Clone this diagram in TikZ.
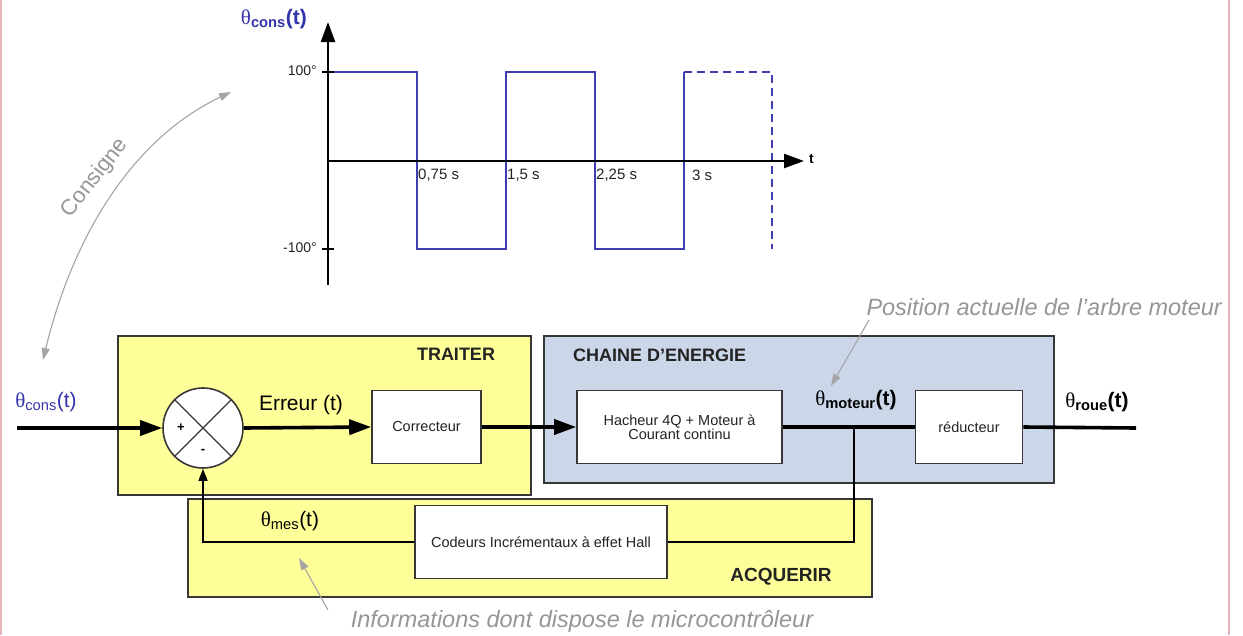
\documentclass[tikz,border=0pt]{standalone}
\usepackage{fontspec}
\setmainfont{Liberation Sans}
\newfontfamily\thf{Liberation Serif}
\usetikzlibrary{arrows.meta,calc}
\definecolor{yel}{RGB}{255,255,153}
\definecolor{bgray}{RGB}{203,215,233}
\definecolor{sigc}{RGB}{62,62,178}
\definecolor{tblue}{RGB}{52,52,172}
\definecolor{anno}{RGB}{150,150,150}
\definecolor{annoline}{RGB}{165,165,165}
\definecolor{framec}{RGB}{232,182,186}
\definecolor{edgec}{RGB}{55,55,55}
\definecolor{txtc}{RGB}{35,35,35}
\newcommand{\fs}[1]{\fontsize{#1}{#1}\selectfont}
\newcommand{\thsym}{{\thf θ}}
\tikzset{
  grp/.style={draw=edgec, line width=1.6, anchor=north west, inner sep=0},
  blk/.style={draw=edgec, fill=white, line width=1.6, align=center, font=\fs{14.5}, text=txtc, inner sep=2},
  mainln/.style={line width=3.6, black},
  bigtip/.style={-{Triangle[length=22,width=15]}},
  fbln/.style={line width=1.5, black},
  axisln/.style={line width=2.4, black, -{Triangle[length=20,width=14]}},
  sigln/.style={line width=1.3, sigc},
  annoarr/.style={line width=1.1, annoline, -{Triangle[length=12,width=8]}},
  annotxt/.style={text=anno, font=\fs{23.5}\itshape, inner sep=0},
  lab/.style={inner sep=0},
}
\begin{document}
\begin{tikzpicture}[x=1pt,y=-1pt]
\useasboundingbox (0,0) rectangle (1243,635);
\fill[white] (0,0) rectangle (1243,635);
% frame lines
\draw[framec, line width=2] (1,0) -- (1,635);
\draw[framec, line width=2] (1228.5,0) -- (1228.5,635);

% ---------- graph ----------
\coordinate (ybot) at (328,285);
\coordinate (ytop) at (328,22);
\coordinate (O) at (328,161);
\coordinate (xend) at (804,161);
\draw[sigln] (328,72) -- (417,72) -- (417,249) -- (506,249) -- (506,72) -- (595,72) -- (595,249) -- (684,249) -- (684,72);
\draw[sigln, dashed, dash pattern=on 8pt off 5pt] (684,72) -- (772,72) -- (772,249);
\draw[axisln] (ybot) -- (ytop);
\draw[axisln] (O) -- (xend);
\draw[line width=1.2] (322,72) -- (334,72);
\draw[line width=1.2] (322,249) -- (334,249);
\node[lab, anchor=east, font=\fs{14}, text=txtc] (l100) at (317,71) {100°};
\node[lab, anchor=east, font=\fs{14}, text=txtc] (lm100) at (317,248) {-100°};
\node[lab, anchor=west, font=\fs{15}, text=txtc] (t1) at (418,175) {0,75 s};
\node[lab, anchor=west, font=\fs{15}, text=txtc] (t2) at (507,175) {1,5 s};
\node[lab, anchor=west, font=\fs{15}, text=txtc] (t3) at (596,175) {2,25 s};
\node[lab, anchor=west, font=\fs{15}, text=txtc] (t4) at (692,175) {3 s};
\node[lab, anchor=west, font=\fs{14}\bfseries] (tlab) at (809,159) {t};
\node[lab, anchor=east, text=tblue, font=\fs{21}] (thc) at (307,19) {\thsym\textsubscript{\bfseries cons}\textbf{(t)}};

% consigne arc
\draw[line width=1.1, annoline, {Triangle[length=12,width=8]}-{Triangle[length=12,width=8]}]
  (43,360) .. controls (72,240) and (130,140) .. (231,92);
\node[lab, text=anno, font=\fs{22}, rotate=52] (cons) at (95,178) {Consigne};

% ---------- groups ----------
\node[grp, fill=yel, minimum width=413, minimum height=159] (traiter) at (117,335) {};
\node[grp, fill=bgray, minimum width=510, minimum height=147] (chaine) at (543,335) {};
\node[grp, fill=yel, minimum width=684, minimum height=98] (acq) at (187,498) {};
\node[lab, font=\fs{18}\bfseries, text=txtc] (ltraiter) at (456,354) {TRAITER};
\node[lab, anchor=west, font=\fs{18}\bfseries, text=txtc] (lchaine) at (573,355) {CHAINE D'ENERGIE};
\node[lab, font=\fs{19}\bfseries, text=txtc] (lacq) at (781,577) {ACQUERIR};

% ---------- blocks ----------
\node[circle, draw=edgec, fill=white, line width=1.6, minimum size=80, inner sep=0] (sum) at (203,428) {};
\draw[line width=1.2, edgec] (sum.north west) -- (sum.south east);
\draw[line width=1.2, edgec] (sum.north east) -- (sum.south west);
\node[lab, font=\fs{13}\bfseries] (plus) at (181,428) {+};
\node[lab, font=\fs{13}\bfseries] (minus) at (203,451) {-};

\node[blk, minimum width=109, minimum height=73] (cor) at (426.5,427) {Correcteur};
\node[blk, minimum width=205, minimum height=73] (hach) at (679.5,427) {Hacheur 4Q + Moteur à\\Courant continu};
\node[blk, minimum width=107, minimum height=73] (red) at (969,427) {réducteur};
\node[blk, minimum width=252, minimum height=73] (cod) at (541,542) {Codeurs Incrémentaux à effet Hall};

% ---------- connectors ----------
\coordinate (in) at (17,428);
\coordinate (out) at (1136,428);
\coordinate (br) at (854,428);
\draw[fbln] (br) |- (cod.east);
\draw[fbln, -{Triangle[length=12,width=9]}] (cod.west) -| (sum.south);
\draw[mainln, bigtip] (in) -- (sum.west);
\draw[mainln, bigtip] (sum.east) -- (cor.west);
\draw[mainln, bigtip] (cor.east) -- (hach.west);
\draw[mainln] (hach.east) -- (red.west);
\draw[mainln] (red.east) -- (out);

% signal labels
\node[lab, text=tblue, font=\fs{21}] (thin) at (46,402) {\thsym\textsubscript{cons}(t)};
\node[lab, font=\fs{21}] (err) at (301,405) {Erreur (t)};
\node[lab, font=\fs{21}] (thmot) at (856,400) {\thsym\textsubscript{\bfseries moteur}\textbf{(t)}};
\node[lab, font=\fs{21}] (throue) at (1097,402) {\thsym\textsubscript{\bfseries roue}\textbf{(t)}};
\node[lab, font=\fs{21}] (thmes) at (290,521) {\thsym\textsubscript{mes}(t)};

% annotations
\node[annotxt, anchor=east] (pos) at (1222,307) {Position actuelle de l'arbre moteur};
\coordinate (posA) at (869,320);
\coordinate (posB) at (831,386);
\draw[annoarr] (posA) -- (posB);
\node[annotxt] (info) at (582,621) {Informations dont dispose le microcontrôleur};
\coordinate (infA) at (328,610);
\coordinate (infB) at (299,558);
\draw[annoarr] (infA) -- (infB);
\end{tikzpicture}
\end{document}
